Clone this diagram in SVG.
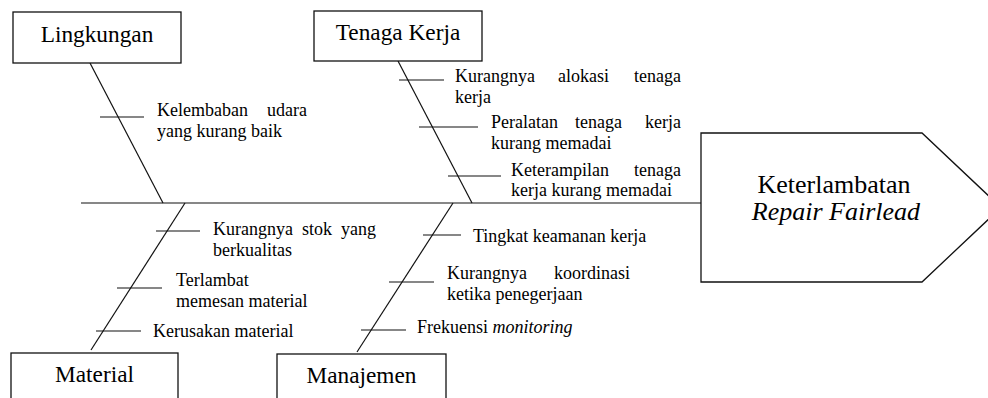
<svg xmlns="http://www.w3.org/2000/svg" width="988" height="398" viewBox="0 0 988 398">
<style>
.box{fill:#fff;stroke:#111;stroke-width:1.3}
.ln{stroke:#111;stroke-width:1.2;fill:none}
text{font-family:'Liberation Serif','Times New Roman',Times,serif;fill:#000}
.title{font-size:23.3px;text-anchor:middle}
.lab{font-size:18px}
.main{font-size:26px;text-anchor:middle}
</style>
<rect width="988" height="398" fill="#fff"/>
<g id="connectors">
<line class="ln" x1="81" y1="203" x2="701" y2="203"/>
<line class="ln" x1="90" y1="63" x2="163" y2="203"/>
<line class="ln" x1="398" y1="61" x2="472" y2="203"/>
<line class="ln" x1="185" y1="203" x2="91" y2="350"/>
<line class="ln" x1="453" y1="203" x2="357" y2="352"/>
<line class="ln" x1="100" y1="117" x2="144" y2="117"/>
<line class="ln" x1="399" y1="80" x2="444" y2="80"/>
<line class="ln" x1="419" y1="127" x2="478" y2="127"/>
<line class="ln" x1="448" y1="176" x2="501" y2="176"/>
<line class="ln" x1="156" y1="231" x2="200" y2="231"/>
<line class="ln" x1="117" y1="288" x2="162" y2="288"/>
<line class="ln" x1="96" y1="331" x2="141" y2="331"/>
<line class="ln" x1="423" y1="235" x2="461" y2="235"/>
<line class="ln" x1="389" y1="282" x2="434" y2="282"/>
<line class="ln" x1="361" y1="330" x2="406" y2="330"/>
</g>
<g id="lingkungan">
<rect class="box" x="13" y="12" width="168" height="51"/>
<text class="title" x="97" y="42">Lingkungan</text>
</g>
<g id="tenaga-kerja">
<rect class="box" x="314" y="11" width="168" height="50"/>
<text class="title" x="398" y="40">Tenaga Kerja</text>
</g>
<g id="material">
<rect class="box" x="11" y="353" width="167" height="60"/>
<text class="title" x="94.5" y="382">Material</text>
</g>
<g id="manajemen">
<rect class="box" x="277" y="354" width="169" height="60"/>
<text class="title" x="361.5" y="383">Manajemen</text>
</g>
<g id="effect">
<polygon class="box" points="701,133 922,133 1001,207.5 922,282 701,282"/>
<text class="main" x="834" y="193">Keterlambatan</text>
<text class="main" x="836" y="220" font-style="italic">Repair Fairlead</text>
</g>
<g id="causes">
<g id="cause-kelembaban">
<text class="lab" y="116"><tspan x="157">Kelembaban</tspan><tspan x="307" text-anchor="end">udara</tspan></text>
<text class="lab" x="157" y="137">yang kurang baik</text>
</g>
<g id="cause-alokasi">
<text class="lab" y="82"><tspan x="455">Kurangnya</tspan><tspan x="558">alokasi</tspan><tspan x="681" text-anchor="end">tenaga</tspan></text>
<text class="lab" x="455" y="103">kerja</text>
</g>
<g id="cause-peralatan">
<text class="lab" y="128"><tspan x="491">Peralatan</tspan><tspan x="575">tenaga</tspan><tspan x="681" text-anchor="end">kerja</tspan></text>
<text class="lab" x="491" y="149">kurang memadai</text>
</g>
<g id="cause-keterampilan">
<text class="lab" y="176"><tspan x="511">Keterampilan</tspan><tspan x="681" text-anchor="end">tenaga</tspan></text>
<text class="lab" x="511" y="196">kerja kurang memadai</text>
</g>
<g id="cause-stok">
<text class="lab" y="235"><tspan x="213">Kurangnya</tspan><tspan x="302">stok</tspan><tspan x="376" text-anchor="end">yang</tspan></text>
<text class="lab" x="213" y="256">berkualitas</text>
</g>
<g id="cause-terlambat">
<text class="lab" x="176" y="286">Terlambat</text>
<text class="lab" x="176" y="307">memesan material</text>
</g>
<g id="cause-kerusakan">
<text class="lab" x="153" y="337">Kerusakan material</text>
</g>
<g id="cause-keamanan">
<text class="lab" x="473" y="242">Tingkat keamanan kerja</text>
</g>
<g id="cause-koordinasi">
<text class="lab" y="279"><tspan x="447">Kurangnya</tspan><tspan x="630" text-anchor="end">koordinasi</tspan></text>
<text class="lab" x="447" y="300">ketika penegerjaan</text>
</g>
<g id="cause-monitoring">
<text class="lab" x="417" y="333">Frekuensi <tspan font-style="italic">monitoring</tspan></text>
</g>
</g>
</svg>
